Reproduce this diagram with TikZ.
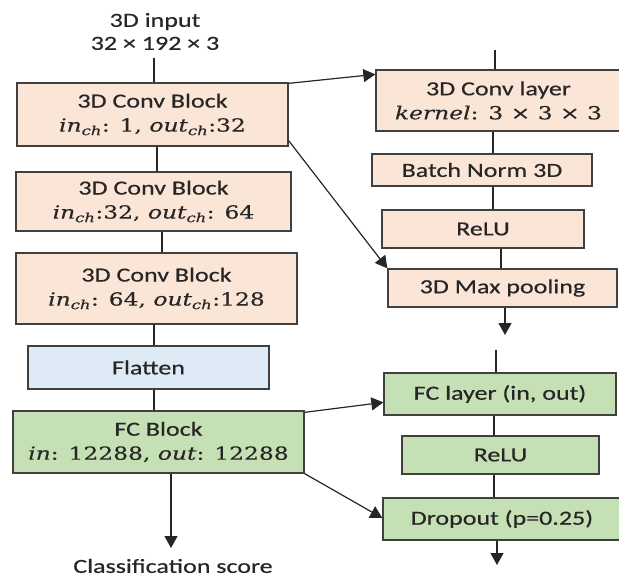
\documentclass[tikz,border=0pt]{standalone}
\usepackage{fontspec}
\setmainfont[FakeStretch=1.3,FakeBold=0.5]{Carlito}
\newfontfamily\mf[FakeStretch=1.3,FakeBold=0.3]{DejaVu Serif}
\usetikzlibrary{arrows.meta,calc}
\definecolor{peach}{HTML}{FBE5D6}
\definecolor{skyb}{HTML}{DEEBF7}
\definecolor{leaf}{HTML}{C5E0B4}
\definecolor{edgec}{HTML}{404040}
\definecolor{ink}{HTML}{262626}
\newcommand{\mv}[1]{\textit{#1}}
\newcommand{\chs}{\textsubscript{\textit{ch}}}
\newcommand{\mline}[1]{{\mf\fontsize{18}{22}\selectfont #1}}
\begin{document}
\begin{tikzpicture}[x=1pt,y=-1pt,
  box/.style={draw=edgec,line width=1.3pt,text=ink,align=center,inner sep=0pt,font=\fontsize{20}{24}\selectfont},
  conv/.style={box,fill=peach},
  flat/.style={box,fill=skyb},
  fcbox/.style={box,fill=leaf},
  conn/.style={draw=black!85,line width=1.2pt},
  arr/.style={conn,-{Triangle[length=12pt,width=13pt]}},
  lbl/.style={text=ink,align=center,inner sep=0pt,font=\fontsize{20}{23}\selectfont}]
\useasboundingbox (0,0) rectangle (619,578);
% left column
\node[lbl] (inp) at (155,31.5) {3D input\\32 × 192 × 3};
\node[conv,minimum width=271pt,minimum height=63pt] (c1) at (152.5,114.5)
  {3D Conv Block\\\mline{\mv{in}\chs: 1, \mv{out}\chs:32}};
\node[conv,minimum width=275pt,minimum height=59pt] (c2) at (153.5,201.5)
  {3D Conv Block\\\mline{\mv{in}\chs:32, \mv{out}\chs: 64}};
\node[conv,minimum width=281pt,minimum height=71pt] (c3) at (156.5,288.5)
  {3D Conv Block\\\mline{\mv{in}\chs: 64, \mv{out}\chs:128}};
\node[flat,minimum width=241pt,minimum height=43pt] (fl) at (148.5,367.5) {Flatten};
\node[fcbox,minimum width=291pt,minimum height=62pt] (fc) at (158.5,442)
  {FC Block\\\mline{\mv{in}: 12288, \mv{out}: 12288}};
\node[lbl] (cls) at (173,566) {Classification score};
% right column
\node[conv,minimum width=245pt,minimum height=61pt] (cl) at (498.5,100.5)
  {3D Conv layer\\\mline{\mv{kernel}: 3 × 3 × 3}};
\node[conv,minimum width=220pt,minimum height=32pt] (bn) at (482,170) {Batch Norm 3D};
\node[conv,minimum width=202pt,minimum height=38pt] (r1) at (483,229) {ReLU};
\node[conv,minimum width=229pt,minimum height=38pt] (mp) at (502.5,288) {3D Max pooling};
\node[fcbox,minimum width=232pt,minimum height=42pt] (fcl) at (500,394) {FC layer (in, out)};
\node[fcbox,minimum width=197pt,minimum height=38pt] (r2) at (500.5,455) {ReLU};
\node[fcbox,minimum width=238pt,minimum height=42pt] (dp) at (502,519) {Dropout (p=0.25)};
% free ends
\coordinate (intop) at (154,58);
\coordinate (cltop) at (495,50);
\coordinate (mpend) at (505,335);
\coordinate (fcltop) at (496,350);
\coordinate (dpend) at (497,565);
\coordinate (clsend) at (171,548);
% left connectors
\draw[conn] (intop) -- (intop |- c1.north);
\draw[conn] ($(c1.south)+(4.5,0)$) -- ($(c2.north)+(3.5,0)$);
\draw[conn] ($(c2.south)+(8.5,0)$) -- ($(c3.north)+(5.5,0)$);
\draw[conn] ($(c3.south)+(-2.5,0)$) -- ($(fl.north)+(5.5,0)$);
\draw[conn] ($(fl.south)+(5.5,0)$) -- ($(fc.north)+(-4.5,0)$);
\draw[arr] ($(fc.south)+(12.5,0)$) -- (clsend);
% right connectors
\draw[conn] (cltop) -- (cltop |- cl.north);
\draw[conn] ($(cl.south)+(-5.5,0)$) -- ($(bn.north)+(11,0)$);
\draw[conn] ($(bn.south)+(11,0)$) -- ($(r1.north)+(10,0)$);
\draw[conn] ($(r1.south)+(18,0)$) -- ($(mp.north)+(-1.5,0)$);
\draw[arr] ($(mp.south)+(2.5,0)$) -- (mpend);
\draw[conn] (fcltop) -- (fcltop |- fcl.north);
\draw[conn] ($(fcl.south)+(-6,0)$) -- ($(r2.north)+(-6.5,0)$);
\draw[conn] ($(r2.south)+(-6.5,0)$) -- ($(dp.north)+(-8,0)$);
\draw[arr] ($(dp.south)+(-5,0)$) -- (dpend);
% cross connectors
\draw[arr] ($(c1.north east)+(0,1)$) -- ($(cl.north west)+(0,5)$);
\draw[arr] ($(c1.south east)+(0,-6)$) -- (mp.north west);
\draw[arr] ($(fc.north east)+(0,2)$) -- ($(fcl.north west)+(0,30)$);
\draw[arr] (fc.south east) -- ($(dp.west)+(0,-1)$);
\end{tikzpicture}
\end{document}
